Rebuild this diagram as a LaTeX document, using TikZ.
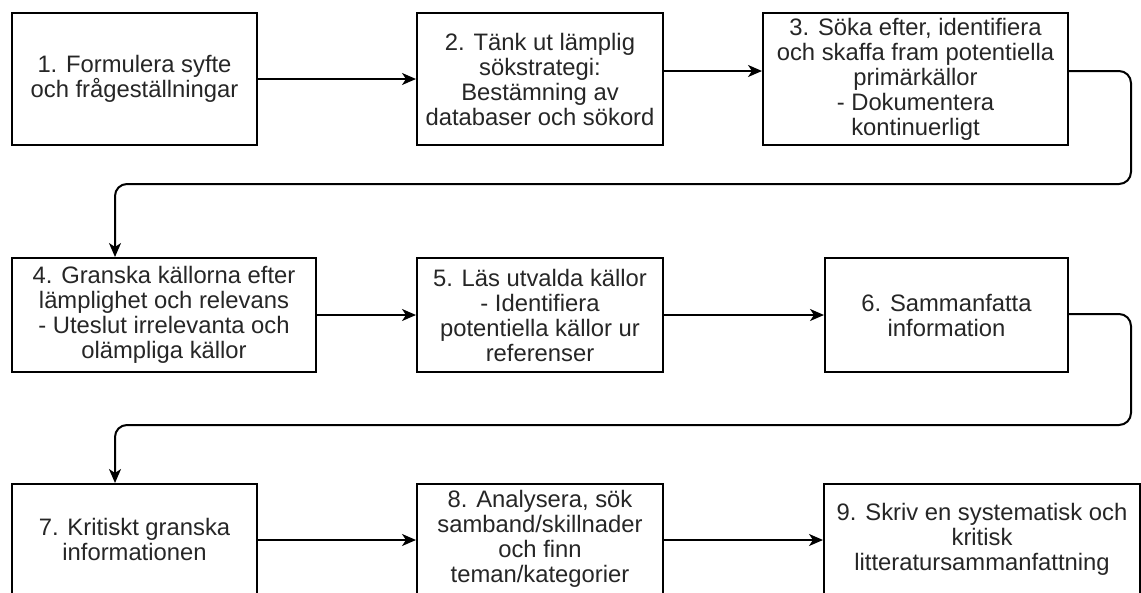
\documentclass[tikz,border=0pt]{standalone}
\usepackage{fontspec}
\setmainfont{Liberation Sans}
\usetikzlibrary{arrows.meta}
\tikzset{
  box/.style={draw=black, line width=2pt, fill=white, inner sep=0pt, align=center,
    font=\fontsize{23.8}{25}\selectfont, text=black!85},
  conn/.style={line width=2pt, -{Stealth[length=14pt,width=12pt,inset=4pt]}},
}
\begin{document}
\begin{tikzpicture}[x=1pt,y=-1pt]
\useasboundingbox (0,0) rectangle (1141,592);
\fill[white] (0,0) rectangle (1141,592);
\node[box, minimum width=245pt, minimum height=132pt] (b1) at (134.5,79) {1. Formulera syfte\\och frågeställningar};
\node[box, minimum width=246pt, minimum height=132pt] (b2) at (540,79) {2. Tänk ut lämplig\\sökstrategi:\\Bestämning av\\databaser och sökord};
\node[box, minimum width=305pt, minimum height=132pt] (b3) at (915.5,79) {3. Söka efter, identifiera\\och skaffa fram potentiella\\primärkällor\\- Dokumentera\\kontinuerligt};
\node[box, minimum width=304pt, minimum height=114pt] (b4) at (164,315) {4. Granska källorna efter\\lämplighet och relevans\\- Uteslut irrelevanta och\\olämpliga källor};
\node[box, minimum width=246pt, minimum height=114pt] (b5) at (540,315) {5. Läs utvalda källor\\- Identifiera\\potentiella källor ur\\referenser};
\node[box, minimum width=243pt, minimum height=114pt] (b6) at (946.5,315) {6. Sammanfatta\\information};
\node[box, minimum width=245pt, minimum height=110pt] (b7) at (134.5,539) {7. Kritiskt granska\\informationen};
\node[box, minimum width=246pt, minimum height=110pt] (b8) at (540,539) {8. Analysera, sök\\samband/skillnader\\och finn\\teman/kategorier};
\node[box, minimum width=316pt, minimum height=110pt] (b9) at (982,539) {9. Skriv en systematisk och\\kritisk\\litteratursammanfattning};

\draw[conn] (b1.east) -- (b1.east -| b2.west);
\draw[conn] ([yshift=8]b2.east) -- ([yshift=8]b3.west);
\draw[conn, rounded corners=12pt] ([yshift=8]b3.east) -- ++(62,0) -- ++(0,113) -| ([xshift=-49]b4.north);
\draw[conn] (b4.east) -- (b5.west);
\draw[conn] (b5.east) -- (b6.west);
\draw[conn, rounded corners=12pt] ([yshift=1]b6.east) -- ++(62,0) -- ++(0,111) -| ([xshift=-19.5]b7.north);
\draw[conn] ([yshift=-1]b7.east) -- ([yshift=-1]b8.west);
\draw[conn] ([yshift=-1]b8.east) -- ([yshift=-1]b8.east -| b9.west);
\end{tikzpicture}
\end{document}
